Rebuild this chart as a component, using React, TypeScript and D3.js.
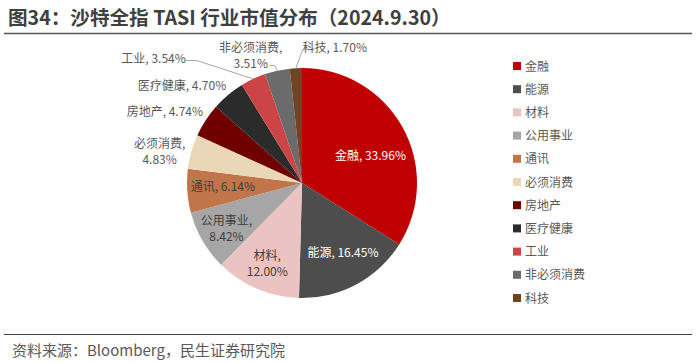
import { useEffect, useRef } from 'react';
import * as d3 from 'd3';

// data
const sectors = ['金融', '能源', '材料', '公用事业', '通讯', '必须消费', '房地产', '医疗健康', '工业', '非必须消费', '科技'];
const shares = [33.96, 16.45, 12.0, 8.42, 6.14, 4.83, 4.74, 4.7, 3.54, 3.51, 1.7];
const colors = ['#C00000', '#4D4D4D', '#EBC3C3', '#A6A6A6', '#C0764A', '#E9D7B7', '#700000', '#2B2B2B', '#CC4446', '#6B6B6B', '#6E4423'];

// label layout: radius factor on the slice mid-angle, nudges, two-line split, text colour
const labelLayout = [
  { k: 0.64, dx: 4, dy: 9, split: false, fill: '#FFFFFF' },
  { k: 0.7, dx: 3, dy: -1, split: false, fill: '#FFFFFF' },
  { k: 0.77, dx: 0, dy: 0, split: true, fill: '#404040' },
  { k: 0.76, dx: 0, dy: 2, split: true, fill: '#404040' },
  { k: 0.69, dx: 0, dy: -1, split: false, fill: '#404040' },
  { k: 1.26, dx: -3, dy: 8, split: true, fill: '#595959' },
  { k: 1.35, dx: -7, dy: 14, split: false, fill: '#595959' },
  { k: 1.34, dx: -21, dy: 21, split: false, fill: '#595959' },
  { k: 1.34, dx: -83, dy: 15, split: false, fill: '#595959' },
  { k: 1.18, dx: -22, dy: 5, split: true, fill: '#595959' },
  { k: 1.18, dx: 40, dy: 0, split: false, fill: '#595959' },
];

const font = '"Noto Sans CJK SC", "Noto Sans", sans-serif';

export default function App() {
  const ref = useRef<SVGSVGElement | null>(null);
  const width = 700;
  const height = 363;

  useEffect(() => {
    const svg = d3.select(ref.current);
    svg.selectAll('*').remove();

    // title and rules
    svg.append('text')
      .attr('x', 8)
      .attr('y', 25)
      .attr('font-family', font)
      .attr('font-size', 19.6)
      .attr('font-weight', 'bold')
      .attr('fill', '#404040')
      .text('图34：沙特全指 TASI 行业市值分布（2024.9.30）');
    svg.append('line')
      .attr('x1', 4).attr('x2', 692).attr('y1', 33.5).attr('y2', 33.5)
      .attr('stroke', '#595959').attr('stroke-width', 1.5);
    svg.append('line')
      .attr('x1', 4).attr('x2', 692).attr('y1', 334.5).attr('y2', 334.5)
      .attr('stroke', '#404040').attr('stroke-width', 1.2);
    svg.append('text')
      .attr('x', 12)
      .attr('y', 356)
      .attr('font-family', font)
      .attr('font-size', 15)
      .attr('fill', '#595959')
      .text('资料来源：Bloomberg，民生证券研究院');

    const cx = 302;
    const cy = 183;
    const R = 115;

    const pie = d3.pie<number>().sort(null).value(d => d);
    const arcs = pie(shares);
    const arc = d3.arc<d3.PieArcDatum<number>>().innerRadius(0).outerRadius(R);

    const g = svg.append('g').attr('transform', `translate(${cx},${cy})`);

    g.selectAll('path.slice')
      .data(arcs)
      .join('path')
      .attr('class', 'slice')
      .attr('fill', (_, i) => colors[i])
      .attr('d', arc);

    const mid = (d: d3.PieArcDatum<number>) => (d.startAngle + d.endAngle) / 2;
    const polar = (a: number, r: number) => [r * Math.sin(a), -r * Math.cos(a)];

    const labels = g.append('g')
      .attr('font-family', font)
      .attr('font-size', 12);

    const pos: number[][] = [];
    arcs.forEach((d, i) => {
      const L = labelLayout[i];
      const [x0, y0] = polar(mid(d), L.k * R);
      const x = x0 + L.dx;
      const y = y0 + L.dy;
      pos.push([x, y]);
      const pct = `${shares[i].toFixed(2)}%`;
      const t = labels.append('text')
        .attr('text-anchor', 'middle')
        .attr('fill', L.fill);
      if (L.split) {
        t.append('tspan').attr('x', x).attr('y', y - 8 + 4).text(`${sectors[i]},`);
        t.append('tspan').attr('x', x).attr('y', y + 8 + 4).text(pct);
      } else {
        t.attr('x', x).attr('y', y + 4).text(`${sectors[i]}, ${pct}`);
      }
    });

    // leader lines for the three smallest top slices
    const leaders: [number, number[][]][] = [];
    const iInd = sectors.indexOf('工业');
    const iCons = sectors.indexOf('非必须消费');
    const iTech = sectors.indexOf('科技');

    {
      const edge = polar(mid(arcs[iInd]), R);
      const [lx, ly] = pos[iInd];
      leaders.push([iInd, [[lx + 31, ly + 2], [lx + 43, ly + 2], edge]]);
    }
    {
      const edge = polar(mid(arcs[iCons]), R);
      const [lx, ly] = pos[iCons];
      leaders.push([iCons, [[lx + 19, ly + 10], [lx + 24, ly + 10], edge]]);
    }
    {
      const edge = polar(mid(arcs[iTech]), R);
      const [lx, ly] = pos[iTech];
      leaders.push([iTech, [[lx - 27, ly + 2], [lx - 32, ly + 2], edge]]);
    }

    g.append('g')
      .selectAll('path')
      .data(leaders)
      .join('path')
      .attr('fill', 'none')
      .attr('stroke', '#A6A6A6')
      .attr('stroke-width', 1)
      .attr('d', d => d3.line()(d[1] as [number, number][]));

    // legend
    const ly = d3.scalePoint<string>().domain(sectors).range([66, 298]);
    const legend = svg.append('g')
      .attr('font-family', font)
      .attr('font-size', 12);
    const item = legend.selectAll('g')
      .data(sectors)
      .join('g')
      .attr('transform', d => `translate(513,${ly(d)})`);
    item.append('rect')
      .attr('x', 0).attr('y', -4)
      .attr('width', 8).attr('height', 8)
      .attr('fill', (_, i) => colors[i]);
    item.append('text')
      .attr('x', 12)
      .attr('y', 4.5)
      .attr('fill', '#595959')
      .text(d => d);
  }, []);

  return (
    <svg
      ref={ref}
      width={width}
      height={height}
      style={{ position: 'absolute', left: 0, top: 0, background: '#fff' }}
    ></svg>
  );
}
